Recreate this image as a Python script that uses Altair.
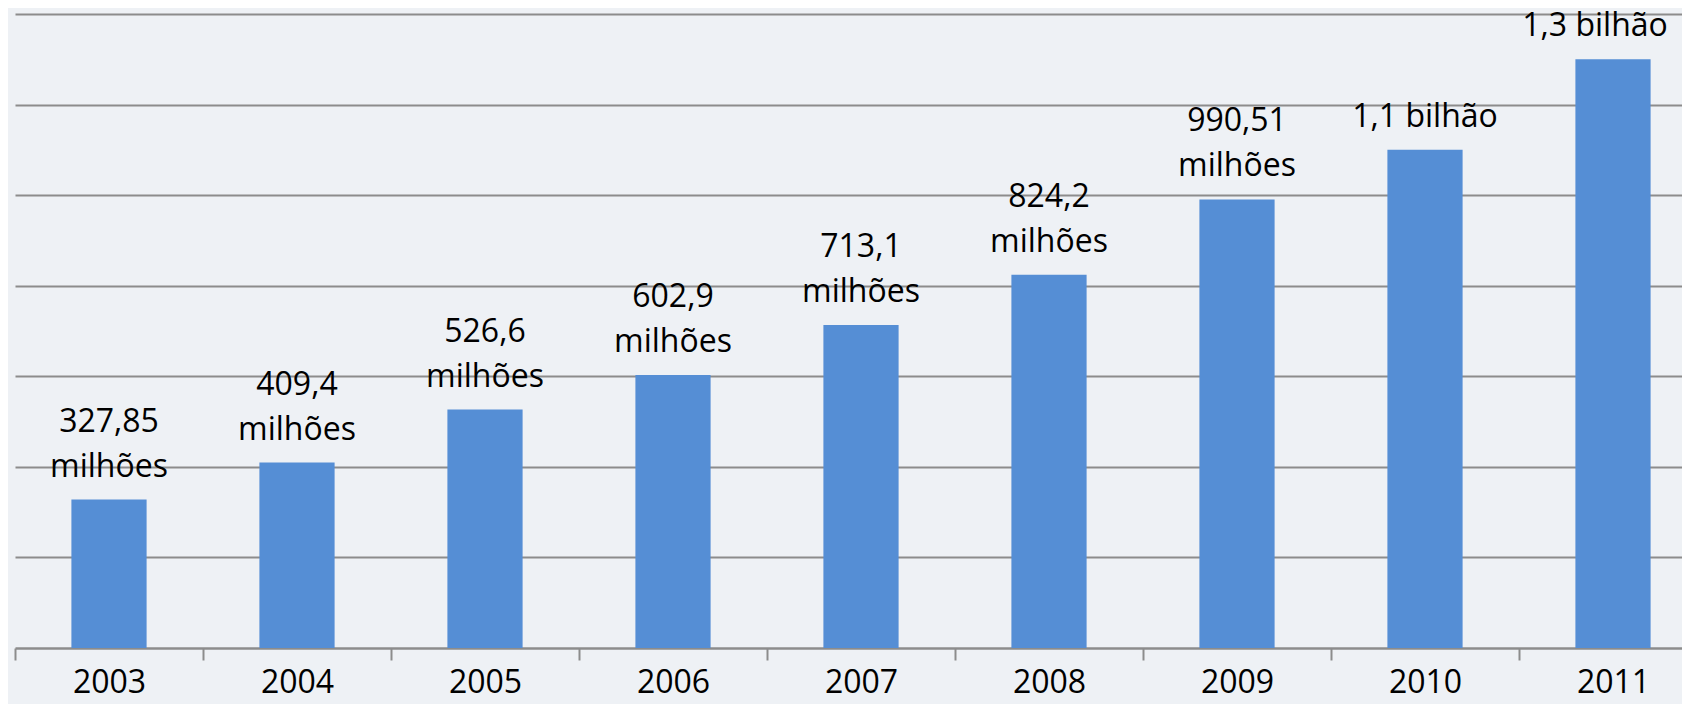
import altair as alt
import pandas as pd

years = ["2003", "2004", "2005", "2006", "2007", "2008", "2009", "2010", "2011"]
values = [327.85, 409.4, 526.6, 602.9, 713.1, 824.2, 990.51, 1100, 1300]
label_top = ["327,85", "409,4", "526,6", "602,9", "713,1", "824,2", "990,51", "", ""]
label_bottom = ["milhões", "milhões", "milhões", "milhões", "milhões", "milhões",
                "milhões", "1,1 bilhão", "1,3 bilhão"]

df = pd.DataFrame({"ano": years, "valor": values, "l1": label_top, "l2": label_bottom})

FONT = "Open Sans"
GRID = "#8C8C8C"

x = alt.X(
    "ano:N",
    sort=years,
    title=None,
    scale=alt.Scale(range=[0, 1692], paddingInner=0, paddingOuter=0),
    axis=alt.Axis(
        labelAngle=0,
        labelFont=FONT,
        labelFontSize=32,
        labelColor="#000000",
        labelPadding=7,
        tickBand="extent",
        tickSize=12,
        tickColor=GRID,
        tickWidth=2,
        domainColor=GRID,
        domainWidth=2.5,
        grid=False,
    ),
)

y = alt.Y(
    "valor:Q",
    title=None,
    scale=alt.Scale(domain=[0, 1400], nice=False),
    axis=alt.Axis(
        values=[200, 400, 600, 800, 1000, 1200, 1400],
        labels=False,
        ticks=False,
        domain=False,
        grid=True,
        gridColor=GRID,
        gridWidth=2,
    ),
)

bars = alt.Chart(df).mark_bar(color="#558ED5", width=alt.RelativeBandSize(0.4)).encode(x=x, y=y)

text_common = dict(baseline="bottom", align="center", font=FONT, fontSize=32, color="#000000")
enc = dict(x=alt.X("ano:N", sort=years), y=alt.Y("valor:Q"))

text_bottom = (
    alt.Chart(df)
    .transform_filter("datum.ano != '2011'")
    .mark_text(dy=-16, **text_common)
    .encode(text="l2:N", **enc)
)
text_bottom_last = (
    alt.Chart(df)
    .transform_filter("datum.ano == '2011'")
    .mark_text(dy=-16, dx=-18, **text_common)
    .encode(text="l2:N", **enc)
)
text_top = alt.Chart(df).mark_text(dy=-61, **text_common).encode(text="l1:N", **enc)

chart = (
    alt.layer(bars, text_bottom, text_bottom_last, text_top)
    .properties(
        width=1667,
        height=634,
        autosize=alt.AutoSizeParams(type="none"),
        padding={"left": 7, "top": 6, "right": 0, "bottom": 56},
        background="#EEF1F5",
    )
    .configure_view(strokeWidth=0)
)

chart.save("out.html", embed_options={"renderer": "svg", "actions": False})
